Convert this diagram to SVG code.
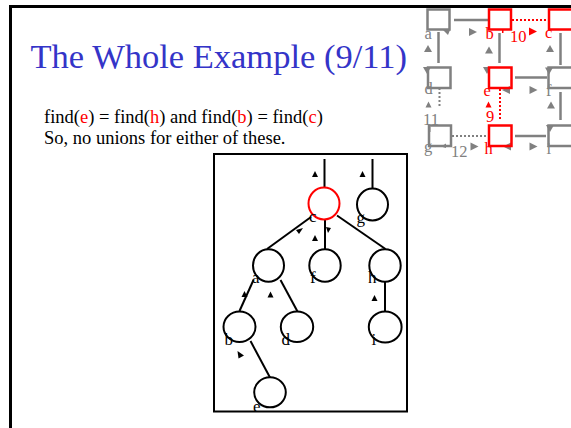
<svg xmlns="http://www.w3.org/2000/svg" xmlns:xlink="http://www.w3.org/1999/xlink" width="571" height="428" viewBox="0 0 571 428">
<style>
text{font-family:"Liberation Serif","Times New Roman",serif}
.title{font-size:34.5px;fill:#3434c8}
.body{font-size:18.5px;fill:#000}
.r{fill:#ff0000}
.lbl{font-size:17px;fill:#000}
.ml{font-size:16.5px}
.mg{fill:#808080}
.mr{fill:#ff0000}
.tn{fill:none;stroke:#000;stroke-width:2}
.tnr{fill:none;stroke:#ff0000;stroke-width:2}
.te{stroke:#000;stroke-width:2;fill:none}
.bx{fill:none;stroke:#808080;stroke-width:2.5}
.bxr{fill:none;stroke:#ff0000;stroke-width:2.5}
.ge{stroke:#808080;stroke-width:2.5;fill:none}
.gd{stroke:#808080;stroke-width:2;stroke-dasharray:2 2;fill:none}
.rd{stroke:#ff0000;stroke-width:2;stroke-dasharray:2 2;fill:none}
.ah{fill:#000}
</style>
<defs>
<path id="tu" d="M0,-3.5 L4,3.5 L-4,3.5 Z"/>
<path id="td" d="M0,3.5 L4,-3.5 L-4,-3.5 Z"/>
<path id="tr" d="M4,0 L-4,-4 L-4,4 Z"/>
<path id="tl" d="M-4,0 L4,-4 L4,4 Z"/>
<path id="su" d="M0,-3 L3,3 L-3,3 Z"/>
</defs>
<rect width="571" height="428" fill="#fff"/>
<!-- slide frame -->
<line x1="10.5" y1="6.5" x2="571" y2="6.5" stroke="#000" stroke-width="3"/>
<line x1="10.5" y1="5" x2="10.5" y2="428" stroke="#000" stroke-width="3"/>
<text class="title" x="30.5" y="68">The Whole Example (9/11)</text>
<text class="body" x="44" y="123">find(<tspan class="r">e</tspan>) = find(<tspan class="r">h</tspan>) and find(<tspan class="r">b</tspan>) = find(<tspan class="r">c</tspan>)</text>
<text class="body" x="44" y="144">So, no unions for either of these.</text>

<!-- tree box -->
<rect x="214" y="154" width="193" height="257.5" fill="none" stroke="#000" stroke-width="2"/>

<g id="connectors">
<line class="te" x1="324.5" y1="159" x2="324.5" y2="188"/>
<line class="te" x1="372.5" y1="159" x2="372.5" y2="188.5"/>
<line class="te" x1="311" y1="217" x2="267" y2="249"/>
<line class="te" x1="325" y1="219.5" x2="325" y2="249"/>
<line class="te" x1="337" y1="215.5" x2="385.5" y2="249"/>
<line class="te" x1="253.5" y1="280" x2="239.5" y2="311"/>
<line class="te" x1="280.5" y1="280" x2="297.5" y2="311.5"/>
<line class="te" x1="385" y1="281.5" x2="385" y2="311.5"/>
<line class="te" x1="250.5" y1="341" x2="270" y2="377.5"/>
<use href="#su" class="ah" x="315" y="174"/>
<use href="#su" class="ah" x="362.5" y="174"/>
<polygon class="ah" points="303,228 299,234 296,230"/>
<use href="#su" class="ah" x="315" y="238"/>
<polygon class="ah" points="326,227 331,228 328,233"/>
<use href="#su" class="ah" x="244.5" y="294"/>
<use href="#su" class="ah" x="270.5" y="294.5"/>
<use href="#su" class="ah" x="374.5" y="298"/>
<polygon class="ah" points="237.5,351 244,355.5 238.5,358.5"/>
</g>

<g id="node-c"><ellipse class="tnr" cx="324" cy="203.5" rx="15.5" ry="16"/><text class="lbl r" x="309" y="222">c</text></g>
<g id="node-g"><ellipse class="tn" cx="372.5" cy="204.5" rx="15.5" ry="16"/><text class="lbl" x="356.5" y="223">g</text></g>
<g id="node-a"><ellipse class="tn" cx="268.5" cy="265.5" rx="15.5" ry="16.2"/><text class="lbl" x="252" y="283">a</text></g>
<g id="node-f"><ellipse class="tn" cx="325" cy="265.5" rx="15.7" ry="16.2"/><text class="lbl" x="310" y="283">f</text></g>
<g id="node-h"><ellipse class="tn" cx="385" cy="265.5" rx="15.7" ry="16.2"/><text class="lbl" x="368" y="283">h</text></g>
<g id="node-b"><ellipse class="tn" cx="239.5" cy="326.7" rx="16" ry="15.2"/><text class="lbl" x="224.5" y="345">b</text></g>
<g id="node-d"><ellipse class="tn" cx="297" cy="326.7" rx="16.2" ry="15.2"/><text class="lbl" x="281.5" y="345">d</text></g>
<g id="node-i"><ellipse class="tn" cx="385.2" cy="327" rx="16.4" ry="15.5"/><text class="lbl" x="371.5" y="345">i</text></g>
<g id="node-e"><ellipse class="tn" cx="270" cy="392.3" rx="15.8" ry="15"/><text class="lbl" x="253" y="412">e</text></g>

<!-- mini graph -->
<g id="mini-connectors">
<line class="ge" x1="454" y1="20" x2="488" y2="20"/>
<line class="rd" x1="512" y1="20" x2="548" y2="20"/>
<line class="ge" x1="438.5" y1="32" x2="438.5" y2="63"/>
<line class="ge" x1="499.5" y1="33" x2="499.5" y2="63"/>
<line class="ge" x1="560.5" y1="33" x2="560.5" y2="65"/>
<line class="ge" x1="515" y1="77.5" x2="547" y2="77.5"/>
<line class="gd" x1="439.5" y1="88" x2="439.5" y2="107"/>
<line class="rd" x1="500" y1="89" x2="500" y2="121"/>
<line class="ge" x1="560.5" y1="92" x2="560.5" y2="120"/>
<line class="gd" x1="452" y1="136" x2="488" y2="136"/>
<line class="ge" x1="515" y1="136" x2="546" y2="136"/>
<polygon class="mg" points="443,30 450,30 448,35"/>
<use href="#tr" class="mg" x="473" y="32"/>
<rect class="mr" x="502" y="30" width="1.5" height="3"/>
<use href="#tr" class="mr" x="533" y="31.5"/>
<use href="#tu" class="mg" x="428" y="48.5"/>
<use href="#tu" class="mg" x="489" y="50"/>
<use href="#tu" class="mg" x="550" y="48.5"/>
<use href="#td" class="mg" x="427" y="70.5"/>
<use href="#td" class="mg" x="487" y="70.5"/>
<use href="#td" class="mg" x="549" y="71"/>
<use href="#tl" class="mg" x="506" y="90"/>
<use href="#tr" class="mg" x="533.5" y="90"/>
<use href="#su" class="mg" x="428.5" y="104.5"/>
<use href="#su" class="mr" x="488.5" y="104.5"/>
<use href="#tu" class="mg" x="551" y="105"/>
<rect class="mg" x="429" y="127" width="1.5" height="5"/>
<use href="#td" class="mg" x="550" y="128.5"/>
<polygon class="mg" points="441,146.5 446,143.5 446,148"/>
<use href="#tr" class="mg" x="474.5" y="146.5"/>
<use href="#tl" class="mg" x="507" y="146.5"/>
<use href="#tr" class="mg" x="533.5" y="146.5"/>
</g>
<g id="m-a"><rect class="bx" x="427.5" y="9.5" width="22" height="20"/><text class="ml mg" x="424.5" y="38.5">a</text></g>
<g id="m-b"><rect class="bxr" x="489" y="9.5" width="22" height="20"/><text class="ml mr" x="485.5" y="38.5">b</text></g>
<text class="ml mr" x="510" y="41.5">10</text>
<g id="m-c"><rect class="bxr" x="549" y="9.5" width="24" height="20"/><text class="ml mr" x="545" y="38">c</text></g>
<g id="m-d"><rect class="bx" x="428" y="67.5" width="22.5" height="20.5"/><text class="ml mg" x="424.5" y="94">d</text></g>
<g id="m-e"><rect class="bxr" x="489" y="67.5" width="22.5" height="20.5"/><text class="ml mr" x="483.5" y="96">e</text></g>
<g id="m-f"><rect class="bx" x="548.5" y="67.5" width="24" height="20.5"/><text class="ml mg" x="546" y="96">f</text></g>
<text class="ml mg" x="423" y="125">11</text>
<text class="ml mr" x="486" y="122">9</text>
<g id="m-g"><rect class="bx" x="429" y="125.5" width="22" height="20.5"/><text class="ml mg" x="424" y="152">g</text></g>
<text class="ml mg" x="451" y="156.5">12</text>
<g id="m-h"><rect class="bxr" x="489" y="125.5" width="22.5" height="20.5"/><text class="ml mr" x="484.5" y="153.5">h</text></g>
<g id="m-i"><rect class="bx" x="548.5" y="125.5" width="24" height="20.5"/><text class="ml mg" x="546.5" y="153.5">i</text></g>
</svg>
